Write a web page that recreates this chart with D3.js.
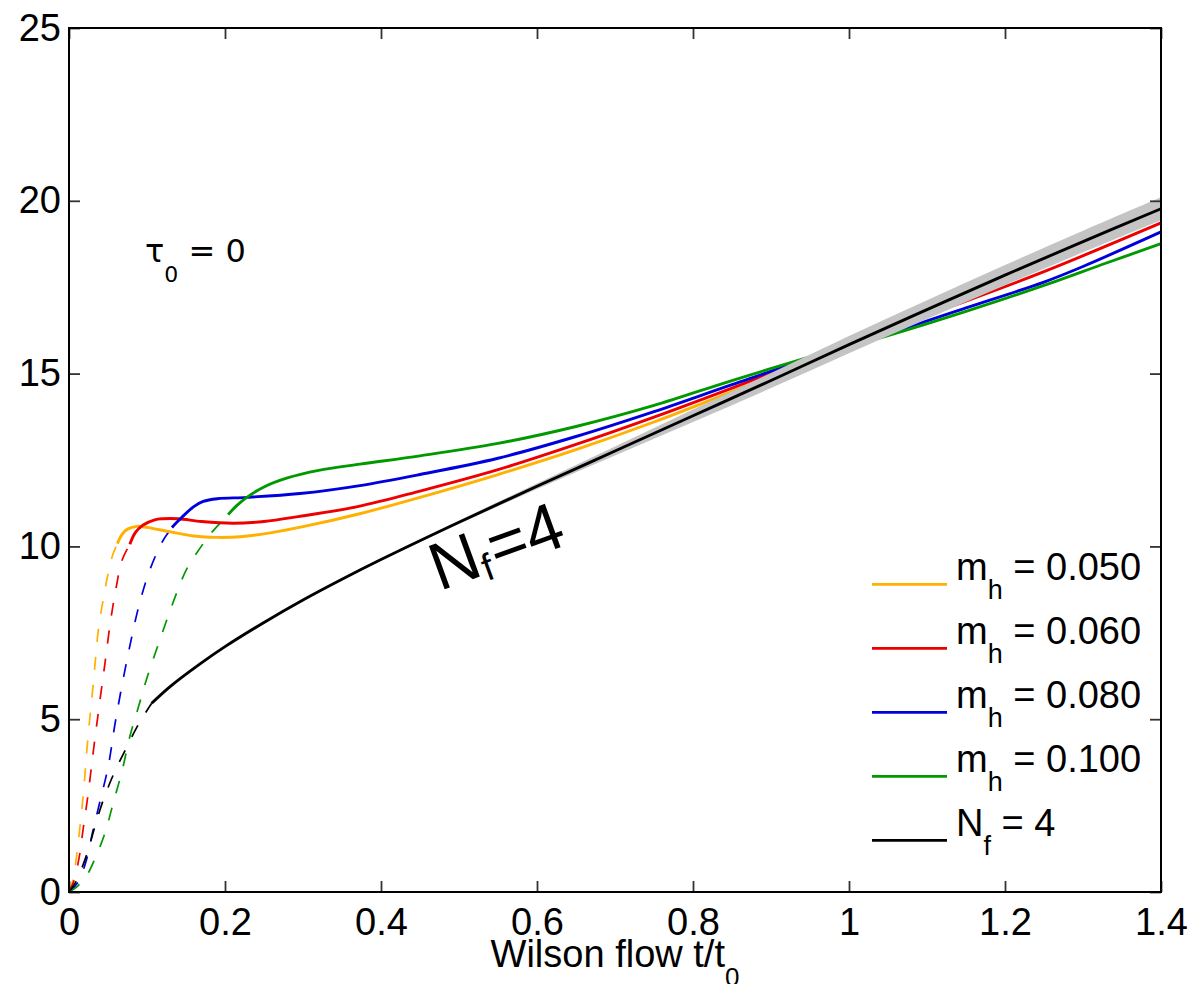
<!DOCTYPE html>
<html>
<head>
<meta charset="utf-8">
<script src="https://cdn.jsdelivr.net/npm/d3@7/dist/d3.min.js"></script>
<style>
    body { margin: 0; background: #fff; }
    svg { font-family: "Liberation Sans", Arial, sans-serif; }
    .line { fill: none; }
</style>
</head>
<body>
<svg></svg>
<script>
// values: [t/t0, value]
const m050Dashed = [[0,0],[0.005,0.35],[0.010,1.1],[0.018,2.75],[0.024,4.4],[0.031,6.0],[0.038,7.65],[0.045,8.6],[0.050,9.2],[0.056,9.75],[0.062,10.08]];
const m050Solid = [[0.062,10.08],[0.068,10.35],[0.075,10.5],[0.087,10.58],[0.10,10.55],[0.13,10.42],[0.16,10.3],[0.19,10.26],[0.22,10.28],[0.26,10.4],[0.30,10.57],[0.37,10.93],[0.45,11.42],[0.55,12.08],[0.65,12.8],[0.75,13.6],[0.85,14.48],[0.95,15.4],[1.05,16.35],[1.15,17.3],[1.25,18.25],[1.4,19.6]];

const m060Dashed = [[0,0],[0.006,0.3],[0.013,1.0],[0.018,1.8],[0.024,2.75],[0.033,4.4],[0.040,5.6],[0.046,6.6],[0.053,7.8],[0.060,8.75],[0.068,9.6],[0.078,10.06]];
const m060Solid = [[0.078,10.06],[0.085,10.4],[0.095,10.62],[0.11,10.77],[0.12,10.8],[0.14,10.8],[0.17,10.72],[0.21,10.67],[0.25,10.72],[0.296,10.87],[0.37,11.15],[0.45,11.6],[0.55,12.22],[0.65,12.95],[0.75,13.74],[0.85,14.58],[0.95,15.45],[1.05,16.3],[1.15,17.1],[1.25,17.95],[1.4,19.36]];

const m080Dashed = [[0,0],[0.012,0.3],[0.022,0.9],[0.031,1.8],[0.040,2.65],[0.050,3.6],[0.060,5.0],[0.076,6.9],[0.091,8.4],[0.105,9.4],[0.12,10.15],[0.132,10.55]];
const m080Solid = [[0.132,10.55],[0.145,10.85],[0.16,11.15],[0.172,11.3],[0.19,11.38],[0.228,11.42],[0.296,11.53],[0.373,11.76],[0.45,12.08],[0.55,12.55],[0.65,13.18],[0.75,13.9],[0.85,14.68],[0.96,15.52],[1.05,16.15],[1.15,16.9],[1.25,17.65],[1.3,18.1],[1.4,19.1]];

const m100Dashed = [[0,0],[0.010,0.15],[0.022,0.45],[0.033,0.95],[0.046,1.7],[0.057,2.6],[0.068,3.5],[0.078,4.5],[0.089,5.35],[0.10,6.2],[0.112,7.0],[0.125,7.85],[0.138,8.65],[0.151,9.35],[0.168,9.95],[0.181,10.35],[0.204,10.92]];
const m100Solid = [[0.204,10.92],[0.215,11.18],[0.228,11.42],[0.25,11.72],[0.28,11.98],[0.32,12.2],[0.373,12.38],[0.45,12.62],[0.55,12.98],[0.65,13.47],[0.75,14.08],[0.85,14.8],[0.96,15.55],[1.05,16.1],[1.15,16.8],[1.25,17.55],[1.33,18.2],[1.4,18.76]];

const nf4Dashed = [[0,0],[0.009,0.3],[0.023,1.1],[0.032,1.8],[0.043,2.6],[0.057,3.4],[0.072,4.1],[0.089,4.85],[0.106,5.46]];
const nf4Solid = [[0.106,5.46],[0.13,5.95],[0.168,6.6],[0.2,7.1],[0.25,7.8],[0.3,8.45],[0.35,9.05],[0.4,9.62],[0.5,10.7],[0.6,11.74],[0.7,12.76],[0.8,13.78],[0.9,14.8],[1.0,15.84],[1.1,16.85],[1.2,17.85],[1.3,18.82],[1.4,19.77]];
// half width of the grey error band round the N_f = 4 curve
const nf4Err = [0,0,0,0,0.01,0.02,0.02,0.03,0.05,0.08,0.13,0.18,0.22,0.25,0.27,0.29,0.31,0.33];

const xTicks = [0, 0.2, 0.4, 0.6, 0.8, 1, 1.2, 1.4];
const yTicks = [0, 5, 10, 15, 20, 25];
const legendLabels = [["m", "h", " = 0.050"], ["m", "h", " = 0.060"], ["m", "h", " = 0.080"], ["m", "h", " = 0.100"], ["N", "f", " = 4"]];
const colours = ["#ffb000", "#ee0000", "#0000dd", "#009900", "#000000"];

const margin = {"top": 28, "right": 34, "bottom": 92, "left": 69},
    width = 1195 - margin.left - margin.right,
    height = 984 - margin.top - margin.bottom;

const x = d3.scaleLinear().domain([0, 1.4]).range([0, width]);
const y = d3.scaleLinear().domain([0, 25]).range([height, 0]);

const svg = d3.select("svg")
    .attr("width", 1195)
    .attr("height", 984)
    .append("g")
    .attr("transform", `translate(${margin.left}, ${margin.top})`);

const line = d3.line().x(d => x(d[0])).y(d => y(d[1])).curve(d3.curveCatmullRom.alpha(0.5));

const series = [
    [m050Dashed, m050Solid],
    [m060Dashed, m060Solid],
    [m080Dashed, m080Solid],
    [m100Dashed, m100Solid]
];

// dashed parts first, all series
series.concat([[nf4Dashed, nf4Solid]]).forEach((s, i) => {
    svg.append("path")
        .attr("class", "line")
        .attr("d", line(s[0]))
        .attr("stroke", colours[i])
        .attr("stroke-width", 1.7)
        .attr("stroke-dasharray", "13,15");
});
series.forEach((s, i) => {
    svg.append("path")
        .attr("class", "line")
        .attr("d", line(s[1]))
        .attr("stroke", colours[i])
        .attr("stroke-width", 2.9);
});

// grey band then the N_f=4 line
const band = d3.area()
    .x(d => x(d[0]))
    .y0((d, i) => y(d[1] - nf4Err[i]))
    .y1((d, i) => y(d[1] + nf4Err[i]))
    .curve(d3.curveCatmullRom.alpha(0.5));
svg.append("path")
    .attr("d", band(nf4Solid))
    .attr("fill", "#c4c4c4");
svg.append("path")
    .attr("class", "line")
    .attr("d", line(nf4Solid))
    .attr("stroke", "#000")
    .attr("stroke-width", 2.9);

// axes, box with inward ticks on all sides
const tickLen = 11;
svg.append("g")
    .attr("transform", `translate(0, ${height})`)
    .call(d3.axisBottom(x).tickValues(xTicks).tickFormat(d3.format("")).tickSizeInner(-tickLen).tickSizeOuter(0).tickPadding(16))
    .call(g => g.select(".domain").remove());
svg.append("g")
    .call(d3.axisTop(x).tickValues(xTicks).tickFormat("").tickSizeInner(-tickLen).tickSizeOuter(0))
    .call(g => g.select(".domain").remove());
svg.append("g")
    .call(d3.axisLeft(y).tickValues(yTicks).tickSizeInner(-tickLen).tickSizeOuter(0).tickPadding(8))
    .call(g => g.select(".domain").remove());
svg.append("g")
    .attr("transform", `translate(${width}, 0)`)
    .call(d3.axisRight(y).tickValues(yTicks).tickFormat("").tickSizeInner(-tickLen).tickSizeOuter(0))
    .call(g => g.select(".domain").remove());
svg.selectAll(".tick line").attr("stroke", "#333").attr("stroke-width", 1.8);
svg.selectAll(".tick text")
    .attr("font-family", "Liberation Sans, Arial, sans-serif")
    .attr("font-size", 38)
    .attr("fill", "#000");

svg.append("rect")
    .attr("width", width)
    .attr("height", height)
    .attr("fill", "none")
    .attr("stroke", "#000")
    .attr("stroke-width", 2);

// x axis label
const xl = svg.append("text")
    .attr("x", width / 2)
    .attr("y", height + 75)
    .attr("text-anchor", "middle")
    .attr("font-size", 38);
xl.append("tspan").text("Wilson flow t/t");
xl.append("tspan").attr("font-size", 26).attr("dy", 19).text("0");

// tau_0 = 0
const tau = svg.append("text")
    .attr("x", 76)
    .attr("y", 234)
    .attr("font-family", "DejaVu Sans, sans-serif")
    .attr("font-size", 32);
tau.append("tspan").text("\u03c4");
tau.append("tspan").attr("font-size", 22).attr("dy", 20).text("0");
tau.append("tspan").attr("dy", -20).text(" = 0");

// N_f=4 on the curve
const nf = svg.append("text")
    .attr("transform", `translate(${x(0.475)}, ${y(8.7)}) rotate(-20)`)
    .attr("font-size", 67);
nf.append("tspan").text("N");
nf.append("tspan").attr("font-size", 38).attr("dy", 7).text("f");
nf.append("tspan").attr("dy", -7).attr("dx", 2).text("=4");

// legend
const legend = svg.append("g")
    .attr("transform", `translate(${width - 289}, ${y(8.9)})`);
legendLabels.forEach((lab, i) => {
    const row = legend.append("g").attr("transform", `translate(0, ${i * 64})`);
    row.append("line")
        .attr("x1", 0).attr("x2", 75)
        .attr("y1", 0).attr("y2", 0)
        .attr("stroke", colours[i])
        .attr("stroke-width", 2.6);
    const t = row.append("text")
        .attr("x", 84)
        .attr("y", -4)
        .attr("font-size", 38);
    t.append("tspan").text(lab[0]);
    t.append("tspan").attr("font-size", 27).attr("dy", 19).text(lab[1]);
    t.append("tspan").attr("dy", -19).text(lab[2]);
});
</script>
</body>
</html>
